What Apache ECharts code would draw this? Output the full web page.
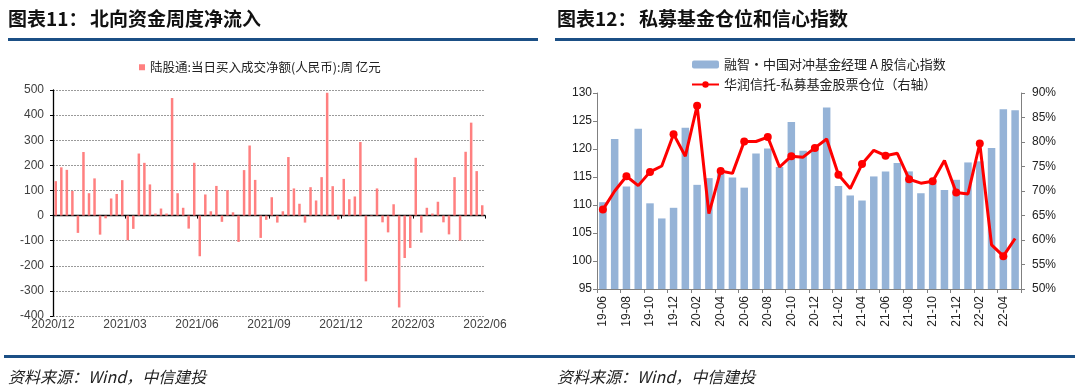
<!DOCTYPE html>
<html><head><meta charset="utf-8">
<script src="https://cdn.jsdelivr.net/npm/echarts@6/dist/echarts.min.js"></script>
<style>html,body{margin:0;padding:0;background:#fff}#c{width:1080px;height:390px}</style>
</head><body><div id="c"></div>
<script>
// ---- Left chart: weekly northbound net inflow (亿元) ----
const weekTickLabels = ['2020/12','2021/03','2021/06','2021/09','2021/12','2022/03','2022/06'];
const flowName = '陆股通:当日买入成交净额(人民币):周 亿元';
const weeklyFlows = [137,192,182,98,-69,253,89,148,-76,-11,68,86,141,-98,-53,247,210,124,8,28,
  8,468,89,31,-52,210,-162,84,17,118,-25,101,13,-105,181,279,142,-89,-17,73,
  -28,17,233,108,47,-28,113,60,153,489,117,-16,146,65,76,293,-262,2,108,-27,
  -67,45,-366,-169,-129,230,-68,31,8,55,-27,-75,153,-100,254,370,177,41];

// ---- Right chart: private fund confidence & position ----
const months = ['19-06','19-07','19-08','19-09','19-10','19-11','19-12',
  '20-01','20-02','20-03','20-04','20-05','20-06','20-07','20-08','20-09','20-10','20-11','20-12',
  '21-01','21-02','21-03','21-04','21-05','21-06','21-07','21-08','21-09','21-10','21-11','21-12',
  '22-01','22-02','22-03','22-04','22-05'];
const confName = '融智·中国对冲基金经理 A 股信心指数';
const confidence = [110.5,121.8,113.3,123.6,110.3,107.6,109.5,123.8,113.6,114.8,
  115.6,114.9,113.1,119.2,120.1,116.8,124.8,119.7,120.3,127.4,
  113.4,111.7,110.8,115.1,116.0,117.5,116.0,112.1,113.9,112.7,
  114.5,117.6,117.8,120.2,127.1,126.9];
const posName = '华润信托-私募基金股票仓位（右轴）';
const position = [66.2,70.0,73.0,71.1,73.9,75.1,81.6,77.1,87.4,65.4,
  74.1,73.6,80.1,80.1,81.0,74.9,77.1,76.9,78.8,80.6,
  73.3,70.5,75.5,78.3,77.2,77.7,72.4,71.6,72.0,76.2,
  69.7,69.4,79.7,59.0,56.7,60.3];

const numFont = 'Liberation Sans, Arial, sans-serif';
const cjk = '"Noto Sans CJK SC", sans-serif';
const chart = echarts.init(document.getElementById('c'), null, {renderer:'canvas'});

const flowData = weeklyFlows.map((v,i)=>[i+0.5, v]);

chart.setOption({
  animation:false,
  backgroundColor:'#fff',
  graphic:[
    {type:'text', style:{text:'图表11：', x:8, y:19, font:'bold 19px '+cjk, fill:'#111', textVerticalAlign:'middle'}},
    {type:'text', style:{text:'北向资金周度净流入', x:90, y:19, font:'bold 19px '+cjk, fill:'#111', textVerticalAlign:'middle'}},
    {type:'text', style:{text:'图表12：', x:557, y:19, font:'bold 19px '+cjk, fill:'#111', textVerticalAlign:'middle'}},
    {type:'text', style:{text:'私募基金仓位和信心指数', x:639, y:19, font:'bold 19px '+cjk, fill:'#111', textVerticalAlign:'middle'}},
    {type:'rect', shape:{x:8, y:38, width:530, height:3}, style:{fill:'#1b4f85'}},
    {type:'rect', shape:{x:555, y:38, width:520, height:3}, style:{fill:'#1b4f85'}},
    {type:'rect', shape:{x:4, y:355, width:1071, height:3}, style:{fill:'#1b4f85'}},
    {type:'text', style:{text:'资料来源：Wind，中信建投', x:8, y:377, font:'italic 16px '+cjk, fill:'#222', textVerticalAlign:'middle'}},
    {type:'text', style:{text:'资料来源：Wind，中信建投', x:557, y:377, font:'italic 16px '+cjk, fill:'#222', textVerticalAlign:'middle'}}
  ],
  legend:[
    {data:[flowName], left:134, top:56, itemWidth:6, itemHeight:6, icon:'rect', itemGap:4,
     textStyle:{fontFamily:cjk, fontSize:12.5, color:'#222'}},
    {data:[confName, posName], orient:'vertical', left:686, top:53, itemWidth:27, itemHeight:8, itemGap:7,
     textStyle:{fontFamily:cjk, fontSize:13, color:'#222'}}
  ],
  grid:[
    {left:53, top:90, width:432, height:226, containLabel:false},
    {left:597, top:93, width:424, height:196, containLabel:false}
  ],
  xAxis:[
    {type:'value', gridIndex:0, min:0, max:78, interval:13, position:'bottom',
     axisLine:{show:false, onZero:false}, axisTick:{show:false}, splitLine:{show:false},
     axisLabel:{margin:3, fontFamily:numFont, fontSize:12, color:'#404040', showMinLabel:true, showMaxLabel:true,
       formatter:v=>weekTickLabels[Math.round(v/13)]}},
    {type:'value', gridIndex:0, min:0, max:78, interval:13, position:'top',
     axisLine:{show:true, onZero:true, lineStyle:{color:'#000', width:1.3}},
     axisTick:{show:true, inside:true, length:3, lineStyle:{color:'#000'}},
     axisLabel:{show:false}, splitLine:{show:false}},
    {type:'category', gridIndex:1, data:months, boundaryGap:true,
     axisLine:{lineStyle:{color:'#808080'}},
     axisTick:{show:true, interval:1, length:4, lineStyle:{color:'#808080'}},
     axisLabel:{interval:1, rotate:90, margin:7, fontFamily:numFont, fontSize:12, color:'#222'}}
  ],
  yAxis:[
    {type:'value', gridIndex:0, min:-400, max:500, interval:100,
     axisLine:{show:true, lineStyle:{color:'#000', width:1.3}},
     axisTick:{show:true, length:3, lineStyle:{color:'#000'}},
     axisLabel:{margin:9, fontFamily:numFont, fontSize:12, color:'#404040'},
     splitLine:{show:true, lineStyle:{color:'#9a9a9a', type:[2,1], width:1}}},
    {type:'value', gridIndex:1, min:95, max:130, interval:5, position:'left',
     axisLine:{show:true, lineStyle:{color:'#808080'}},
     axisTick:{show:true, length:4, lineStyle:{color:'#808080'}},
     axisLabel:{margin:5, fontFamily:numFont, fontSize:12, color:'#222'},
     splitLine:{show:false}},
    {type:'value', gridIndex:1, min:50, max:90, interval:5, position:'right',
     axisLine:{show:true, lineStyle:{color:'#808080'}},
     axisTick:{show:true, length:4, lineStyle:{color:'#808080'}},
     axisLabel:{margin:11, fontFamily:numFont, fontSize:12, color:'#222', formatter:'{value}%'},
     splitLine:{show:false}}
  ],
  series:[
    {name:flowName, type:'bar', xAxisIndex:0, yAxisIndex:0, data:flowData, barWidth:2.5,
     itemStyle:{color:'#ff8080'}},
    {name:confName, type:'bar', xAxisIndex:2, yAxisIndex:1, data:confidence, barWidth:7.5,
     itemStyle:{color:'#95b3d7'}},
    {name:posName, type:'line', xAxisIndex:2, yAxisIndex:2, data:position,
     symbol:'circle', symbolSize:8, lineStyle:{color:'#ff0000', width:3},
     itemStyle:{color:'#ff0000'}}
  ]
});
</script></body></html>
